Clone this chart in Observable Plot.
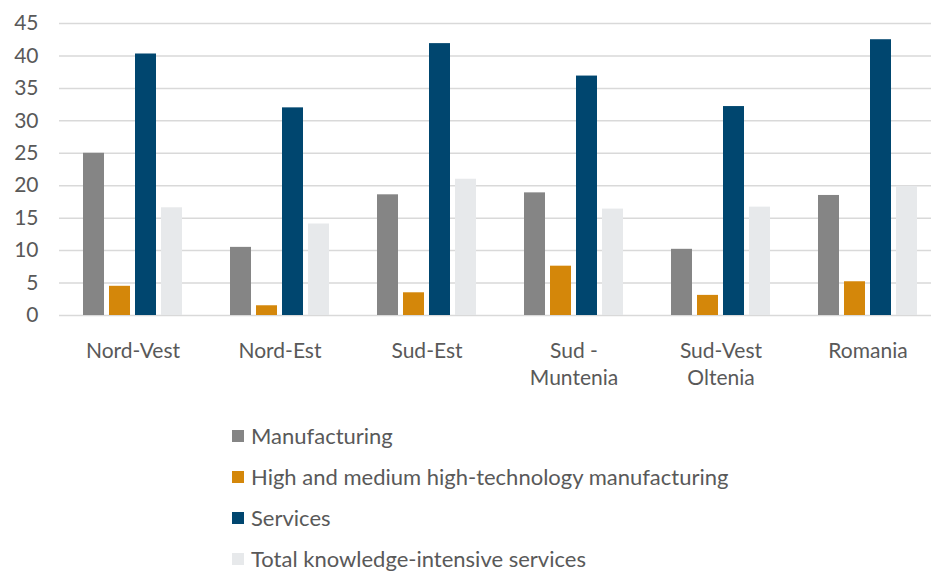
<!DOCTYPE html>
<html>
<head>
<meta charset="utf-8">
<script src="https://cdn.jsdelivr.net/npm/d3@7"></script>
<script src="https://cdn.jsdelivr.net/npm/@observablehq/plot@0.6"></script>
<style>
  html, body { margin: 0; padding: 0; background: #fff; overflow: hidden; }
  #wrap { width: 931px; overflow: hidden; font-family: Lato, sans-serif; color: #595959; }
  #chart svg { display: block; max-width: none !important; }
  #legend { padding-top: 15px; padding-left: 232px; }
  .row { height: 41px; display: flex; align-items: center; font-size: 22px; line-height: 22px; }
  .sw { width: 12px; height: 12px; margin-right: 7px; flex: none; }
</style>
</head>
<body>
<div id="wrap">
  <div id="chart"></div>
  <div id="legend"></div>
</div>
<script>
const regions = ["Nord-Vest", "Nord-Est", "Sud-Est", "Sud - Muntenia", "Sud-Vest Oltenia", "Romania"];
const regionLabels = ["Nord-Vest", "Nord-Est", "Sud-Est", "Sud -\nMuntenia", "Sud-Vest\nOltenia", "Romania"];
const series = ["Manufacturing", "High and medium high-technology manufacturing", "Services", "Total knowledge-intensive services"];
const colors = ["#858585", "#D4870A", "#00466F", "#E7E9EB"];
const manufacturing = [25.0, 10.5, 18.6, 18.9, 10.2, 18.5];
const highTech = [4.5, 1.5, 3.5, 7.6, 3.1, 5.2];
const services = [40.3, 32.0, 41.9, 36.9, 32.2, 42.5];
const kis = [16.6, 14.1, 21.0, 16.4, 16.7, 19.9];
const yTicks = [0, 5, 10, 15, 20, 25, 30, 35, 40, 45];

const seriesValues = [manufacturing, highTech, services, kis];
const data = [];
regions.forEach((r, i) => {
  series.forEach((s, j) => data.push({region: r, series: s, value: seriesValues[j][i]}));
});

const chart = Plot.plot({
  width: 943,
  height: 400,
  marginLeft: 57,
  marginRight: 0,
  marginTop: 23,
  marginBottom: 85,
  style: {fontFamily: "Lato, sans-serif", fontSize: "21px", color: "#595959", background: "#fff", maxWidth: "none"},
  fx: {domain: regions, padding: 0, label: null},
  x: {domain: series, axis: null, paddingInner: 0.2, paddingOuter: 0.84},
  y: {domain: [0, 45], label: null},
  color: {domain: series, range: colors},
  marks: [
    Plot.gridY(yTicks, {stroke: "#D9D9D9", strokeOpacity: 1, strokeWidth: 1.5}),
    Plot.axisY(yTicks, {tickSize: 0, tickPadding: 21, fontSize: 21, label: null, fill: "#595959"}),
    Plot.axisFx({anchor: "bottom", tickSize: 0, tickPadding: 23, fontSize: 21, lineHeight: 1.3, label: null, fill: "#595959",
      tickFormat: d => regionLabels[regions.indexOf(d)]}),
    Plot.barY(data, {fx: "region", x: "series", y: "value", fill: "series"})
  ]
});
document.getElementById("chart").appendChild(chart);

const legend = document.getElementById("legend");
series.forEach((s, i) => {
  const row = document.createElement("div");
  row.className = "row";
  const sw = document.createElement("span");
  sw.className = "sw";
  sw.style.background = colors[i];
  const t = document.createElement("span");
  t.textContent = s;
  row.appendChild(sw);
  row.appendChild(t);
  legend.appendChild(row);
});
</script>
</body>
</html>
